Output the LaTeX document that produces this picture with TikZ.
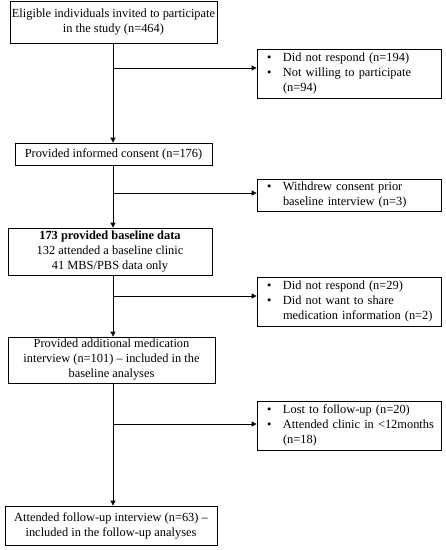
\documentclass[tikz,border=0pt]{standalone}
\usepackage{fontspec}
\setmainfont{Liberation Serif}
\usetikzlibrary{arrows.meta}
\begin{document}
\begin{tikzpicture}[x=1pt,y=-1pt,
  mainbox/.style={draw, line width=0.8pt, rectangle, align=center, inner sep=2pt,
    font=\fontsize{12.4}{15}\selectfont},
  sidebox/.style={draw, line width=0.8pt, rectangle, align=left, inner xsep=5pt, inner ysep=2pt,
    minimum width=184pt, text width=174pt, font=\fontsize{12.4}{15}\selectfont},
  arr/.style={line width=0.8pt, -{Triangle[length=5pt,width=5pt]}},
  ln/.style={line width=0.8pt}]
\useasboundingbox (0,0) rectangle (446,550);
\newcommand{\bl}{\hspace*{5pt}\makebox[16pt][l]{\textbullet}}
\newcommand{\ind}{\hspace*{21pt}}
\node[mainbox, minimum width=203pt, minimum height=42pt] (m1) at (113.5,22) {Eligible individuals invited to participate\\in the study (n=464)};
\node[mainbox, minimum width=197pt, minimum height=22pt] (m2) at (113.5,154) {Provided informed consent (n=176)};
\node[mainbox, minimum width=204pt, minimum height=47pt] (m3) at (110,251.5) {\textbf{173 provided baseline data}\\132 attended a baseline clinic\\41 MBS/PBS data only};
\node[mainbox, minimum width=207pt, minimum height=46pt] (m4) at (111.5,360) {Provided additional medication\\interview (n=101) -- included in the\\baseline analyses};
\node[mainbox, minimum width=212pt, minimum height=39pt] (m5) at (111,525.5) {Attended follow-up interview (n=63) --\\included in the follow-up analyses};
\node[sidebox, minimum height=49pt] (r1) at (349,73.5) {\bl Did not respond (n=194)\\\bl Not willing to participate\\\ind(n=94)};
\node[sidebox, minimum height=32pt] (r2) at (349,195) {\bl Withdrew consent prior\\\ind baseline interview (n=3)};
\node[sidebox, minimum height=49pt] (r3) at (349,301.5) {\bl Did not respond (n=29)\\\bl Did not want to share\\\ind medication information (n=2)};
\node[sidebox, minimum height=49pt] (r4) at (349,425.5) {\bl Lost to follow-up (n=20)\\\bl Attended clinic in <12months\\\ind(n=18)};
\coordinate (b1) at (113,68);
\coordinate (b2) at (113,193);
\coordinate (b3) at (113,296);
\coordinate (b4) at (113,424);
\draw[arr] (m1.south -| b1) -- (m2.north -| b1);
\draw[arr] (m2.south -| b2) -- (m3.north -| b2);
\draw[arr] (m3.south -| b3) -- (m4.north -| b3);
\draw[arr] (m4.south -| b4) -- (m5.north -| b4);
\draw[arr] (b1) -- (b1 -| r1.west);
\draw[arr] (b2) -- (b2 -| r2.west);
\draw[arr] (b3) -- (b3 -| r3.west);
\draw[arr] (b4) -- (b4 -| r4.west);
\end{tikzpicture}
\end{document}
